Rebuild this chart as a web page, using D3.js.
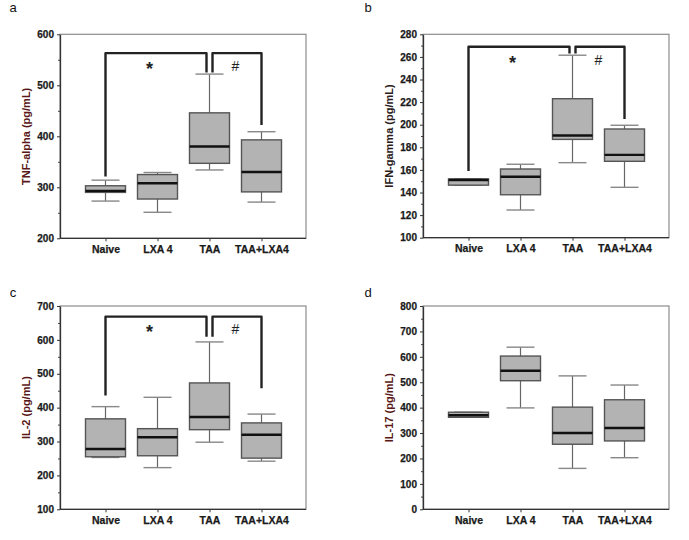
<!DOCTYPE html>
<html>
<head>
<meta charset="utf-8">
<script src="https://cdn.jsdelivr.net/npm/d3@7"></script>
<style>
  body { margin: 0; background: #fff; }
  svg { display: block; }
  text { font-family: "Liberation Sans", Arial, sans-serif; }
</style>
</head>
<body>
<svg id="chart" width="689" height="540"></svg>
<script>
// ---------- DATA ----------
const categories = ["Naive", "LXA 4", "TAA", "TAA+LXA4"];
// each entry: [whisker low, Q1, median, Q3, whisker high]
const tnfAlpha = [[273, 290, 293, 303, 314], [251, 277, 308, 325, 329], [334, 347, 380, 446, 522], [271, 291, 330, 393, 409]];
const ifnGamma = [[146.5, 146.5, 151, 152, 152], [124.5, 138, 154, 160.8, 165], [166.4, 187, 190.5, 223, 261.5], [144.6, 167.6, 173.3, 196.2, 199.5]];
const il2 = [[253, 255, 278, 367, 403], [223, 258, 312.5, 338, 430.5], [298, 335, 372.5, 473, 594], [242, 251, 320, 355, 381]];
const il17 = [[362, 362, 370, 382, 382], [399, 506, 545, 603, 638], [161, 256, 300, 402, 525], [203, 269, 320, 431, 489]];

const yTicksA = [200, 300, 400, 500, 600];
const yTicksB = [100, 120, 140, 160, 180, 200, 220, 240, 260, 280];
const yTicksC = [100, 200, 300, 400, 500, 600, 700];
const yTicksD = [0, 100, 200, 300, 400, 500, 600, 700, 800];

// significance brackets: [top, left-leg end, inner-leg end, right-leg end]
const bracketA = [563, 321, 525, 422];
const bracketB = [269, 159, 263, 205];
const bracketC = [668.5, 436, 609.5, 457];
const symbolLevel = { a: 538, b: 257, c: 632 };

const panels = [
  { id: "a", title: "TNF-alpha (pg/mL)", data: tnfAlpha, ticks: yTicksA, minorStep: 50, bracket: bracketA, sym: symbolLevel.a,
    left: 60, right: 306, top: 34.3, bottom: 238.3, labelColor: "#5a1818", lx: 13, ly: 12 },
  { id: "b", title: "IFN-gamma (pg/mL)", data: ifnGamma, ticks: yTicksB, minorStep: 10, bracket: bracketB, sym: symbolLevel.b,
    left: 423, right: 669, top: 34.3, bottom: 237.7, labelColor: "#2a1a1a", lx: 368, ly: 12 },
  { id: "c", title: "IL-2 (pg/mL)", data: il2, ticks: yTicksC, minorStep: 50, bracket: bracketC, sym: symbolLevel.c,
    left: 60, right: 306, top: 306, bottom: 509.3, labelColor: "#5a1818", lx: 13, ly: 297 },
  { id: "d", title: "IL-17 (pg/mL)", data: il17, ticks: yTicksD, minorStep: 50, bracket: null, sym: null,
    left: 423, right: 669, top: 306, bottom: 509.3, labelColor: "#5a1818", lx: 368, ly: 297 }
];

const svg = d3.select("#chart");

panels.forEach(p => {
  const g = svg.append("g");
  const yMin = p.ticks[0], yMax = p.ticks[p.ticks.length - 1];
  const y = d3.scaleLinear().domain([yMin, yMax]).range([p.bottom, p.top]);
  const x = d3.scalePoint().domain(categories).range([p.left + 45.5, p.left + 201.5]);
  const bw = 40, capW = 28;

  // panel letter
  g.append("text").attr("x", p.lx).attr("y", p.ly).attr("text-anchor", "middle")
    .attr("font-size", 13).attr("fill", "#111").text(p.id);

  // frame
  g.append("rect").attr("x", p.left).attr("y", p.top)
    .attr("width", p.right - p.left).attr("height", p.bottom - p.top)
    .attr("fill", "none").attr("stroke", "#8c8c8c").attr("stroke-width", 1.2);

  // minor ticks
  const minor = d3.range(yMin, yMax + 0.001, p.minorStep).filter(v => !p.ticks.includes(v));
  g.append("g").attr("transform", `translate(${p.left},0)`)
    .call(d3.axisLeft(y).tickValues(minor).tickSize(2).tickFormat(""))
    .call(s => s.select(".domain").remove())
    .selectAll("line").attr("stroke", "#444");

  // y axis
  const ya = g.append("g").attr("transform", `translate(${p.left},0)`)
    .call(d3.axisLeft(y).tickValues(p.ticks).tickSize(3).tickPadding(3).tickSizeOuter(0));
  ya.select(".domain").attr("stroke", "#333").attr("stroke-width", 1.3);
  ya.selectAll(".tick line").attr("stroke", "#333");
  ya.selectAll("text").attr("font-size", 10).attr("font-weight", "bold")
    .attr("fill", "#1a1a1a").attr("stroke", "#1a1a1a").attr("stroke-width", 0.25)
    .style("font-family", "'Liberation Sans', Arial, sans-serif");

  // x axis
  const xa = g.append("g").attr("transform", `translate(0,${p.bottom})`)
    .call(d3.axisBottom(x).tickSize(3).tickPadding(4).tickSizeOuter(0));
  xa.select(".domain").attr("d", `M${p.left},0H${p.right}`).attr("stroke", "#333").attr("stroke-width", 1.3);
  xa.selectAll(".tick line").attr("stroke", "#333");
  xa.selectAll("text").attr("font-size", 10.5).attr("font-weight", "bold")
    .attr("fill", "#1a1a1a").attr("stroke", "#1a1a1a").attr("stroke-width", 0.25)
    .style("font-family", "'Liberation Sans', Arial, sans-serif");

  // y label
  g.append("text")
    .attr("transform", `translate(${p.left - 34},${(p.top + p.bottom) / 2}) rotate(-90)`)
    .attr("text-anchor", "middle").attr("dominant-baseline", "central")
    .attr("font-size", 11).attr("font-weight", "bold").attr("fill", p.labelColor)
    .text(p.title);

  // boxes
  const boxes = g.selectAll(".box").data(p.data.map((d, i) => ({ cat: categories[i], v: d })))
    .enter().append("g");
  boxes.append("line").attr("x1", d => x(d.cat)).attr("x2", d => x(d.cat))
    .attr("y1", d => y(d.v[0])).attr("y2", d => y(d.v[1]))
    .attr("stroke", "#666").attr("stroke-width", 1.2);
  boxes.append("line").attr("x1", d => x(d.cat)).attr("x2", d => x(d.cat))
    .attr("y1", d => y(d.v[3])).attr("y2", d => y(d.v[4]))
    .attr("stroke", "#666").attr("stroke-width", 1.2);
  [0, 4].forEach(k => {
    boxes.append("line").attr("x1", d => x(d.cat) - capW / 2).attr("x2", d => x(d.cat) + capW / 2)
      .attr("y1", d => y(d.v[k])).attr("y2", d => y(d.v[k]))
      .attr("stroke", "#888").attr("stroke-width", 1.4);
  });
  boxes.append("rect").attr("x", d => x(d.cat) - bw / 2).attr("width", bw)
    .attr("y", d => y(d.v[3])).attr("height", d => Math.max(1, y(d.v[1]) - y(d.v[3])))
    .attr("fill", "#b3b3b3").attr("stroke", "#555").attr("stroke-width", 1.4);
  boxes.append("line").attr("x1", d => x(d.cat) - bw / 2).attr("x2", d => x(d.cat) + bw / 2)
    .attr("y1", d => y(d.v[2])).attr("y2", d => y(d.v[2]))
    .attr("stroke", "#111").attr("stroke-width", 2.4);

  // brackets
  if (p.bracket) {
    const [top, lLeg, inLeg, rLeg] = p.bracket;
    const xn = x(categories[0]), xt = x(categories[2]), xr = x(categories[3]);
    const path1 = d3.path();
    path1.moveTo(xn, y(lLeg)); path1.lineTo(xn, y(top)); path1.lineTo(xt - 3, y(top)); path1.lineTo(xt - 3, y(inLeg));
    const path2 = d3.path();
    path2.moveTo(xt + 3, y(inLeg)); path2.lineTo(xt + 3, y(top)); path2.lineTo(xr, y(top)); path2.lineTo(xr, y(rLeg));
    [path1, path2].forEach(pt => g.append("path").attr("d", pt.toString())
      .attr("fill", "none").attr("stroke", "#222").attr("stroke-width", 2.4).attr("stroke-linejoin", "round"));
    g.append("text").attr("x", (xn + xt) / 2 - 8).attr("y", y(p.sym) + 9)
      .attr("text-anchor", "middle").attr("font-size", 18).attr("font-weight", "bold").attr("fill", "#222").text("*");
    g.append("text").attr("x", (xt + xr) / 2).attr("y", y(p.sym) + 5)
      .attr("text-anchor", "middle").attr("font-size", 14).attr("fill", "#222").text("#");
  }
});
</script>
</body>
</html>
